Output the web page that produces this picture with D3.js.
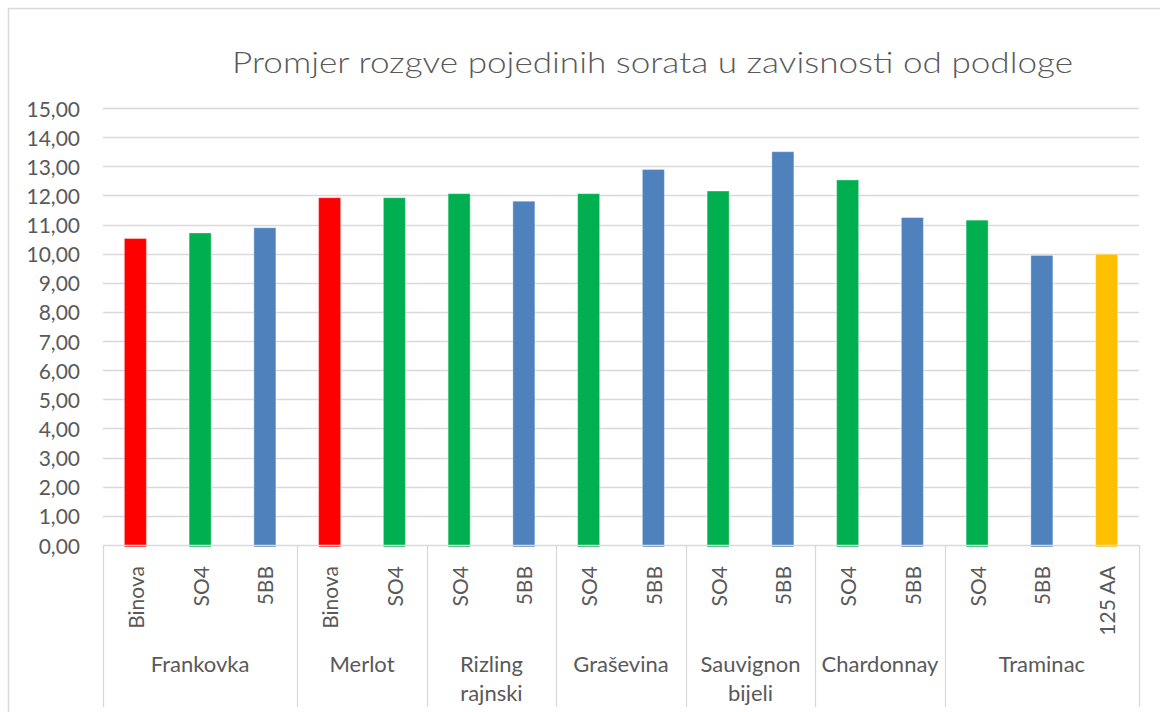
<!DOCTYPE html>
<html>
<head>
<meta charset="utf-8">
<script src="https://cdn.jsdelivr.net/npm/d3@7"></script>
<style>
  html, body { margin: 0; padding: 0; background: #fff; }
  svg { display: block; }
  text { font-family: Lato, "Open Sans", sans-serif; fill: #595959; }
</style>
</head>
<body>
<svg id="chart" width="1160" height="712"></svg>
<script>
const title = "Promjer rozgve pojedinih sorata u zavisnosti od podloge";
const groups = ["Frankovka", "Merlot", "Rizling\nrajnski", "Graševina", "Sauvignon\nbijeli", "Chardonnay", "Traminac"];
const groupSizes = [3, 2, 2, 2, 2, 2, 3];
const rootstocks = ["Binova", "SO4", "5BB", "Binova", "SO4", "SO4", "5BB", "SO4", "5BB", "SO4", "5BB", "SO4", "5BB", "SO4", "5BB", "125 AA"];
const values = [10.52, 10.71, 10.89, 11.92, 11.92, 12.06, 11.80, 12.06, 12.89, 12.15, 13.50, 12.53, 11.24, 11.15, 9.94, 9.98];
const yTicks = [0, 1, 2, 3, 4, 5, 6, 7, 8, 9, 10, 11, 12, 13, 14, 15];
const colorMap = { "Binova": "#FF0000", "SO4": "#00B050", "5BB": "#4F81BD", "125 AA": "#FFC000" };

(function () {
const svg = d3.select("#chart");
const pLeft = 103, pRight = 1139, pTop = 108, pBottom = 545;

// outer frame (left/top visible)
svg.append("path").attr("d", "M8.5,712 L8.5,8.5 L1160,8.5")
  .attr("fill", "none").attr("stroke", "#D9D9D9").attr("stroke-width", 1.5);

const idx = d3.range(values.length);
const x = d3.scaleBand().domain(idx).range([pLeft, pRight]).paddingInner(0.66).paddingOuter(0.33);
const y = d3.scaleLinear().domain([0, 15]).range([pBottom, pTop]);

// gridlines
svg.append("g").selectAll("line").data(yTicks.filter(t => t > 0)).join("line")
  .attr("x1", pLeft).attr("x2", pRight)
  .attr("y1", d => Math.round(y(d)) + 0.5).attr("y2", d => Math.round(y(d)) + 0.5)
  .attr("stroke", "#D9D9D9").attr("stroke-width", 1.3);

// y tick labels
const fmt = d => d3.format(".2f")(d).replace(".", ",");
svg.append("g").selectAll("text").data(yTicks).join("text")
  .attr("x", 80).attr("y", d => y(d))
  .attr("text-anchor", "end").attr("dominant-baseline", "central")
  .style("font-size", "21px")
  .text(fmt);

// bars
svg.append("g").selectAll("rect").data(idx).join("rect")
  .attr("x", i => x(i)).attr("width", x.bandwidth())
  .attr("y", i => y(values[i])).attr("height", i => y(0) - y(values[i]) + 2)
  .attr("fill", i => colorMap[rootstocks[i]])
  .attr("stroke", "#fff").attr("stroke-opacity", 0.35).attr("stroke-width", 1);

// x axis line
svg.append("line").attr("x1", pLeft).attr("x2", pRight)
  .attr("y1", pBottom + 0.5).attr("y2", pBottom + 0.5)
  .attr("stroke", "#D9D9D9").attr("stroke-width", 1.3);

// rootstock labels (rotated)
svg.append("g").selectAll("text").data(idx).join("text")
  .attr("transform", i => `translate(${x(i) + x.bandwidth() / 2},566) rotate(-90)`)
  .attr("text-anchor", "end").attr("dominant-baseline", "central")
  .style("font-size", "21px")
  .text(i => rootstocks[i]);

// group separators and labels
let start = 0;
const bounds = [];
groupSizes.forEach(n => { bounds.push([start, start + n]); start += n; });
const sepXs = [pLeft].concat(bounds.map(b => pLeft + (pRight - pLeft) * b[1] / values.length));
svg.append("g").selectAll("line").data(sepXs).join("line")
  .attr("x1", d => Math.round(d) + 0.5).attr("x2", d => Math.round(d) + 0.5)
  .attr("y1", pBottom).attr("y2", 707)
  .attr("stroke", "#D9D9D9").attr("stroke-width", 1.3);

const gl = svg.append("g").selectAll("text").data(groups).join("text")
  .attr("x", (g, k) => pLeft + (pRight - pLeft) * (bounds[k][0] + bounds[k][1]) / 2 / values.length)
  .attr("y", 672)
  .attr("text-anchor", "middle")
  .style("font-size", "22px");
gl.each(function (g) {
  const lines = g.split("\n");
  const sel = d3.select(this);
  const cx = sel.attr("x");
  lines.forEach((ln, j) => {
    sel.append("tspan").attr("x", cx).attr("dy", j === 0 ? 0 : 29).text(ln);
  });
});

// title
svg.append("text").attr("x", 652.5).attr("y", 73)
  .attr("text-anchor", "middle")
  .attr("textLength", 841).attr("lengthAdjust", "spacingAndGlyphs")
  .style("font-size", "30px").style("font-weight", 300)
  .text(title);
})();
</script>
</body>
</html>
